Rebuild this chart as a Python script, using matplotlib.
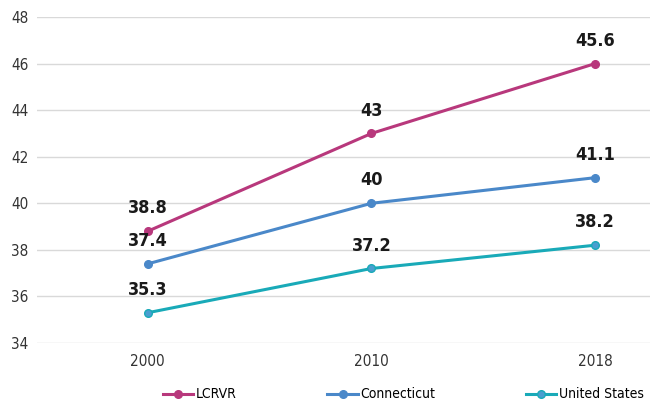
import matplotlib.pyplot as plt

plt.rcParams['font.family'] = ['DejaVu Sans']
plt.rcParams['font.stretch'] = 'condensed'

# data
years = ["2000", "2010", "2018"]
lcrvr = [38.8, 43, 46]
connecticut = [37.4, 40, 41.1]
us = [35.3, 37.2, 38.2]
lcrvr_labels = ["38.8", "43", "45.6"]
ct_labels = ["37.4", "40", "41.1"]
us_labels = ["35.3", "37.2", "38.2"]

fig = plt.figure(figsize=(6.56, 4.0), dpi=100)
ax = fig.add_axes([37 / 656, 1 - 343 / 400, (650 - 37) / 656, (343 - 17) / 400])

x = list(range(len(years)))
ax.plot(x, lcrvr, color="#B8387C", lw=2.2, marker="o", ms=5.5, label="LCRVR")
ax.plot(x, connecticut, color="#4A88C9", lw=2.2, marker="o", ms=5.5, label="Connecticut")
ax.plot(x, us, color="#19AAB8", lw=2.2, marker="o", ms=5.5,
        mfc="#4A9ED0", mec="#19AAB8", label="United States")

for vals, labs in [(lcrvr, lcrvr_labels), (connecticut, ct_labels), (us, us_labels)]:
    for xi, v, t in zip(x, vals, labs):
        ax.annotate(t, (xi, v), xytext=(0, 10), textcoords="offset points",
                    ha="center", va="bottom", fontsize=13, fontweight="bold",
                    color="#1a1a1a")

ax.set_xlim(-0.495, 2.245)
ax.set_ylim(34, 48)
ax.set_yticks(range(34, 49, 2))
ax.set_xticks(x)
ax.set_xticklabels(years)
ax.grid(axis="y", color="#d9d9d9", lw=1)
ax.set_axisbelow(True)
for s in ax.spines.values():
    s.set_visible(False)
ax.tick_params(length=0, labelsize=11, colors="#333333")
ax.tick_params(axis="y", pad=6)
ax.tick_params(axis="x", pad=8)

fig.legend(loc="lower center", bbox_to_anchor=(0.615, -0.035), ncol=3, frameon=False,
           fontsize=10, columnspacing=6.5, handlelength=2.2, handletextpad=0.2)

plt.savefig("out.png", dpi=100)
